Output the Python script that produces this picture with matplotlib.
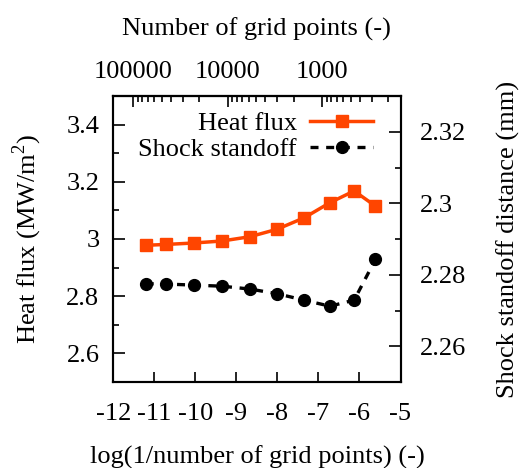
import numpy as np
import matplotlib
matplotlib.use("Agg")
import matplotlib.pyplot as plt
from matplotlib.ticker import MultipleLocator, FuncFormatter

plt.rcParams['font.family'] = ['Liberation Serif', 'DejaVu Serif']
plt.rcParams['mathtext.fontset'] = 'custom'
plt.rcParams['mathtext.rm'] = 'Liberation Serif'

# data
log_inv_n = [-11.21, -10.71, -10.04, -9.35, -8.67, -8.01, -7.35, -6.72, -6.13, -5.61]
heat_flux = [2.978, 2.981, 2.986, 2.993, 3.008, 3.034, 3.074, 3.127, 3.168, 3.115]
shock_standoff = [2.2775, 2.2774, 2.2771, 2.2768, 2.2760, 2.2747, 2.2729, 2.2712, 2.2729, 2.2843]
top_tick_values = [100000, 10000, 1000]
top_tick_labels = ["100000", "10000", "1000"]

FS = 19
W, H = 519, 468
fig = plt.figure(figsize=(W / 100, H / 100), dpi=100)
ax = fig.add_axes([113.3 / W, (H - 382) / H, (400.5 - 113.3) / W, (382 - 96) / H])
ax2 = ax.twinx()

orange = '#ff4500'
l1, = ax.plot(log_inv_n, heat_flux, color=orange, lw=2.5, marker='s', ms=8.5,
              label='Heat flux')
l2, = ax2.plot(log_inv_n, shock_standoff, color='black', lw=2.4, ls=(0, (2.4, 2.3)),
               marker='o', ms=8.5, label='Shock standoff')

ax.set_xlim(-12, -5)
ax.set_ylim(2.5, 3.5)
ax2.set_ylim(2.25, 2.33)

for a in (ax, ax2):
    for s in a.spines.values():
        s.set_linewidth(1.5)

ax.xaxis.set_major_locator(MultipleLocator(1))
ax.yaxis.set_major_locator(MultipleLocator(0.2))
ax.yaxis.set_minor_locator(MultipleLocator(0.1))
ax.yaxis.set_major_formatter(FuncFormatter(lambda v, p: f"{round(v, 3):g}"))
ax.xaxis.set_major_formatter(FuncFormatter(lambda v, p: f"{v:g}"))
ax2.yaxis.set_major_locator(MultipleLocator(0.02))
ax2.yaxis.set_minor_locator(MultipleLocator(0.01))
ax2.yaxis.set_major_formatter(FuncFormatter(lambda v, p: f"{round(v, 3):g}"))

ax.tick_params(axis='x', which='both', direction='in', top=False, length=7.5, width=1.2,
               labelsize=FS, pad=15)
ax.tick_params(axis='y', which='major', direction='in', right=False, length=8.5, width=1.2,
               labelsize=FS, pad=10)
ax.tick_params(axis='y', which='minor', direction='in', right=False, length=4, width=1.2)
ax2.tick_params(axis='y', which='major', direction='in', length=8.5, width=1.2,
                labelsize=FS, pad=14)
ax2.tick_params(axis='y', which='minor', direction='in', length=4, width=1.2)

# top axis: number of grid points
sec = ax.secondary_xaxis('top')
sec.set_xticks([-np.log(n) for n in top_tick_values])
sec.set_xticklabels(top_tick_labels)
minors = []
for dec in (10000, 1000, 100):
    for k in range(2, 10):
        v = -np.log(dec * k)
        if -12 <= v <= -5:
            minors.append(v)
sec.set_xticks(minors, minor=True)
sec.tick_params(axis='x', which='major', direction='in', length=8, width=1.2,
                labelsize=FS, pad=9)
sec.tick_params(axis='x', which='minor', direction='in', length=4, width=1.2)
sec.spines['top'].set_linewidth(1.5)
sec.set_xlabel('Number of grid points (-)', fontsize=FS, labelpad=19)

ax.set_xlabel('log(1/number of grid points) (-)', fontsize=FS, labelpad=15)
ax.set_ylabel(r'Heat flux (MW/m$^2$)', fontsize=FS, labelpad=16)
ax2.set_ylabel('Shock standoff distance (mm)', fontsize=FS, labelpad=22)

leg = ax2.legend([l1, l2], ['Heat flux', 'Shock standoff'], loc='upper right',
                 bbox_to_anchor=(0.96, 1.0), markerfirst=False, frameon=False,
                 fontsize=FS, handlelength=2.4, handletextpad=0.5, labelspacing=0.1,
                 borderaxespad=0.2)

fig.savefig('out.png', dpi=100)
